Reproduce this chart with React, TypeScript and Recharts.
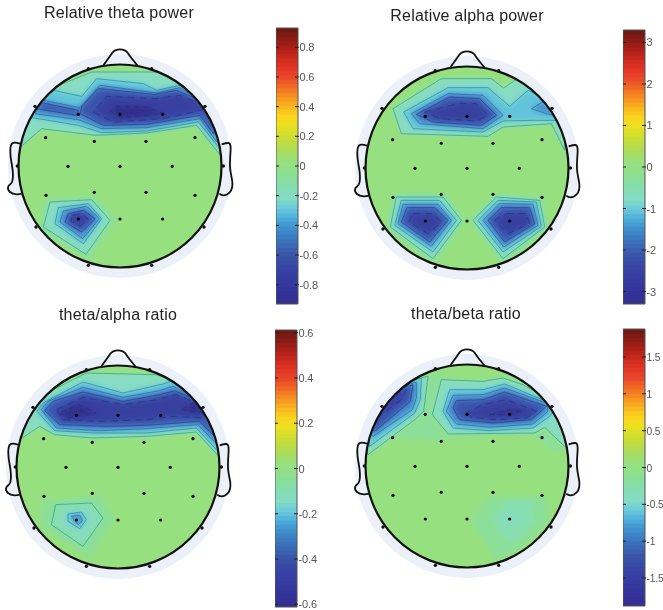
import React from 'react';
import { ScatterChart, Scatter, XAxis, YAxis, ReferenceArea, Curve } from 'recharts';

type Pt = [number, number];
type Region = { level: number; pts: Pt[] };

// Units: 1/3 of a picture pixel, measured in each panel's own crop.
const electrodes: Pt[] = [
  [-125, -155], [0, -155], [128, -155], [-223, -85], [-77, -74], [78, -74], [225, -85],
  [-156, 1], [0, 1], [157, 1], [-222, 88], [-77, 79], [78, 79], [225, 88], [-125, 159], [0, 159], [128, 159],
];
const rimElectrodes: Pt[] = [
  [-95, -292], [95, -292], [-255, -179], [255, -179], [-308, 0], [310, 0], [-252, 183], [252, 183], [-95, 298], [95, 298],
];
const nose: Pt[] = [[-50, -302], [-32, -327], [-20, -343], [-7, -349], [7, -349], [20, -343], [32, -327], [52, -302]];
const leftEar: Pt[] = [[-300, -67], [-315, -70], [-327, -62], [-328, -27], [-322, 13], [-324, 48], [-335, 61], [-330, 78], [-310, 85], [-295, 83]];
const rightEar: Pt[] = [[305, -65], [325, -69], [332, -52], [330, 3], [337, 48], [330, 78], [310, 88], [298, 83]];

const thetaRegions: Region[] = [
  { level: 0, pts: [[130, 600], [290, 590], [350, 655], [270, 780], [120, 690]] },
  { level: 1, pts: [[150, 605], [275, 598], [330, 660], [258, 762], [130, 680]] },
  { level: 2, pts: [[175, 622], [265, 610], [305, 655], [250, 730], [165, 670]] },
  { level: 3, pts: [[190, 632], [260, 618], [298, 655], [248, 715], [180, 665]] },
  { level: 4, pts: [[205, 640], [250, 630], [285, 655], [245, 695], [195, 665]] },
  { level: 5, pts: [[218, 645], [245, 640], [265, 657], [240, 678], [212, 662]] },
  { level: 1, pts: [[62, 440], [125, 385], [285, 405], [440, 398], [590, 375], [665, 470], [690, 400], [620, 300], [530, 240], [470, 215], [275, 215], [160, 262], [100, 310], [60, 390]] },
  { level: 2, pts: [[85, 350], [235, 375], [305, 397], [440, 392], [595, 365], [660, 445], [680, 380], [610, 300], [540, 255], [470, 270], [430, 250], [290, 235], [245, 288], [150, 268], [100, 315]] },
  { level: 3, pts: [[105, 340], [235, 358], [305, 385], [440, 382], [600, 355], [650, 425], [660, 380], [610, 305], [540, 262], [470, 278], [300, 255], [240, 322], [130, 300]] },
  { level: 4, pts: [[240, 340], [310, 375], [440, 372], [600, 345], [640, 400], [650, 370], [600, 300], [530, 270], [465, 282], [295, 265], [245, 320]] },
  { level: 4, pts: [[110, 325], [230, 345], [235, 330], [130, 308]] },
  { level: 5, pts: [[280, 335], [340, 365], [490, 355], [600, 330], [620, 320], [540, 285], [465, 295], [320, 288]] },
  { level: 6, pts: [[330, 332], [365, 352], [440, 345], [490, 340], [440, 320], [350, 318]] },
];

const alphaRegions: Region[] = [
  { level: 1, pts: [[180, 325], [325, 235], [475, 235], [512, 263], [545, 240], [600, 250], [700, 370], [695, 450], [655, 370], [510, 380], [465, 408], [205, 400]] },
  { level: 2, pts: [[212, 335], [345, 262], [465, 262], [530, 318], [585, 270], [650, 300], [690, 370], [670, 360], [600, 360], [510, 362], [450, 395], [240, 385]] },
  { level: 3, pts: [[595, 325], [630, 305], [660, 330], [665, 345], [640, 340]] },
  { level: 3, pts: [[235, 340], [345, 280], [450, 285], [510, 345], [450, 385], [260, 370]] },
  { level: 4, pts: [[250, 342], [350, 290], [440, 295], [490, 345], [445, 375], [300, 365]] },
  { level: 5, pts: [[275, 335], [375, 310], [430, 310], [465, 345], [430, 362], [320, 355]] },
  { level: 0, pts: [[180, 580], [335, 580], [395, 660], [305, 790], [160, 685]] },
  { level: 1, pts: [[190, 590], [330, 590], [385, 660], [300, 775], [172, 680]] },
  { level: 2, pts: [[205, 600], [320, 600], [370, 660], [300, 755], [185, 675]] },
  { level: 3, pts: [[210, 612], [315, 612], [355, 660], [295, 738], [195, 670]] },
  { level: 4, pts: [[222, 622], [305, 622], [345, 660], [290, 725], [205, 665]] },
  { level: 5, pts: [[240, 640], [300, 640], [325, 665], [285, 700], [228, 665]] },
  { level: 0, pts: [[485, 580], [628, 590], [645, 685], [510, 790], [410, 660]] },
  { level: 1, pts: [[490, 590], [620, 600], [635, 680], [510, 775], [420, 660]] },
  { level: 2, pts: [[495, 600], [610, 605], [625, 678], [510, 755], [435, 660]] },
  { level: 3, pts: [[500, 610], [600, 612], [615, 675], [512, 740], [450, 660]] },
  { level: 4, pts: [[505, 622], [590, 622], [605, 670], [515, 725], [465, 660]] },
  { level: 5, pts: [[520, 640], [580, 640], [590, 670], [525, 700], [485, 660]] },
];

const ratioAlphaRegions: Region[] = [
  { level: 0, pts: [[130, 590], [300, 570], [345, 640], [270, 760], [120, 660]] },
  { level: 7, pts: [[168, 600], [275, 595], [310, 640], [250, 725], [155, 660]] },
  { level: 8, pts: [[190, 612], [265, 605], [295, 642], [248, 705], [175, 660]] },
  { level: 2, pts: [[205, 628], [245, 622], [260, 645], [240, 672], [205, 650]] },
  { level: 3, pts: [[215, 635], [240, 632], [248, 648], [235, 660]] },
  { level: 1, pts: [[60, 405], [120, 365], [165, 390], [280, 400], [440, 395], [590, 382], [660, 458], [680, 400], [620, 280], [530, 230], [470, 210], [260, 205], [150, 260], [100, 310], [65, 380]] },
  { level: 2, pts: [[112, 320], [165, 378], [280, 385], [440, 385], [590, 370], [655, 440], [665, 390], [610, 285], [520, 228], [490, 238], [370, 265], [250, 232], [130, 295]] },
  { level: 3, pts: [[125, 315], [170, 370], [300, 378], [440, 372], [595, 360], [648, 415], [655, 385], [600, 285], [520, 245], [480, 258], [370, 278], [250, 248], [145, 290]] },
  { level: 4, pts: [[135, 318], [180, 360], [320, 365], [440, 362], [600, 350], [640, 390], [640, 370], [590, 285], [525, 258], [480, 270], [370, 290], [250, 262], [160, 290]] },
  { level: 5, pts: [[170, 315], [190, 345], [300, 350], [440, 345], [520, 335], [620, 340], [590, 295], [530, 270], [470, 285], [370, 300], [250, 278]] },
  { level: 6, pts: [[180, 325], [205, 340], [290, 325], [235, 300]] },
  { level: 6, pts: [[545, 315], [610, 325], [600, 300], [580, 295]] },
];

const ratioBetaRegions: Region[] = [
  { level: 0, pts: [[415, 650], [470, 575], [640, 575], [650, 650], [550, 740], [490, 770]] },
  { level: 9, pts: [[470, 640], [530, 590], [600, 590], [600, 660], [530, 720]] },
  { level: 8, pts: [[500, 640], [530, 615], [570, 630], [530, 670]] },
  { level: 0, pts: [[180, 400], [272, 335], [290, 205], [330, 205], [300, 345], [345, 400], [480, 405], [300, 410]] },
  { level: 0, pts: [[600, 392], [635, 375], [700, 440], [660, 440]] },
  { level: 1, pts: [[105, 450], [245, 345], [272, 320], [285, 215], [240, 225], [170, 260], [110, 350], [95, 420]] },
  { level: 2, pts: [[110, 425], [245, 325], [262, 285], [265, 220], [200, 240], [130, 310], [100, 370]] },
  { level: 3, pts: [[120, 395], [238, 315], [250, 280], [250, 232], [195, 250], [125, 320], [105, 380]] },
  { level: 4, pts: [[125, 380], [232, 290], [240, 240], [190, 255], [130, 320], [112, 370]] },
  { level: 5, pts: [[132, 340], [205, 285], [220, 255], [190, 265], [140, 310]] },
  { level: 1, pts: [[298, 330], [345, 388], [605, 385], [635, 368], [700, 430], [705, 380], [650, 285], [570, 240], [510, 220], [450, 230], [325, 225]] },
  { level: 2, pts: [[330, 320], [360, 370], [470, 378], [600, 370], [650, 335], [660, 320], [640, 290], [515, 238], [450, 255], [350, 255]] },
  { level: 3, pts: [[340, 320], [370, 358], [470, 368], [600, 358], [645, 320], [640, 295], [515, 250], [450, 270], [360, 272]] },
  { level: 4, pts: [[360, 310], [380, 345], [480, 355], [595, 345], [640, 305], [515, 262], [450, 285], [370, 288]] },
  { level: 5, pts: [[400, 325], [415, 338], [490, 345], [580, 340], [610, 320], [520, 285], [450, 300]] },
  { level: 6, pts: [[470, 330], [530, 315], [570, 320], [520, 330]] },
];

const thetaTicks = [0.8, 0.6, 0.4, 0.2, 0, -0.2, -0.4, -0.6, -0.8];
const alphaTicks = [3, 2, 1, 0, -1, -2, -3];
const ratioAlphaTicks = [0.6, 0.4, 0.2, 0, -0.2, -0.4, -0.6];
const ratioBetaTicks = [1.5, 1, 0.5, 0, -0.5, -1, -1.5];

const titles = ['Relative theta power', 'Relative alpha power', 'theta/alpha ratio', 'theta/beta ratio'];

const colorStops = [
  '#33308f', '#34329a', '#353a9e', '#3640a2', '#3848a6', '#3a55a8', '#3a68b4', '#3b7dc2', '#4093cf', '#4fb0dc', '#6ccbdc', '#85dcc6',
  '#85dcb4', '#86dea0', '#90df8a', '#97e07f', '#a8dd60', '#bedc42', '#d4de2c', '#f0e01f', '#fbd21e', '#f9b020', '#f68e20', '#ef6a25',
  '#e8472a', '#e23526', '#cc2b1f', '#b02018', '#8c1c14', '#6e1a12',
];
const BAND_COUNT = 64;
const hex = (s: string) => [1, 3, 5].map((i) => parseInt(s.slice(i, i + 2), 16));
const colormap = Array.from({ length: BAND_COUNT }, (_, i) => {
  const t = (i / (BAND_COUNT - 1)) * (colorStops.length - 1);
  const a = Math.floor(t);
  const b = Math.min(a + 1, colorStops.length - 1);
  const [p, q] = [hex(colorStops[a]), hex(colorStops[b])];
  return `rgb(${p.map((v, k) => Math.round(v + (q[k] - v) * (t - a))).join(',')})`;
});

const levelFill = ['#8cdf98', '#87dcc4', '#62c4da', '#4a8fce', '#3b55ad', '#37409f', '#312f8c', '#87deb0', '#86dcc0', '#87deb0'];
const levelLine = ['none', '#2e9d98', '#2a8aa0', '#2b6aa0', '#2c3f8c', '#28307c', '#28307c', '#2e9d98', 'none', 'none'];
const levelDash = ['', '', '', '', '', '7 5', '5 4', '', '', ''];

const SCALE = 3;
const CHART = 240;
const HEAD_R = 101.5;
const HALO_R = 112;

const nil = () => null;
const toData = (pts: Pt[]) => pts.map(([x, y]) => ({ x, y }));
const toPath = (points: any[]) => 'M' + points.map((p) => `${p.x},${p.y}`).join('L') + 'Z';

function Head({ id, cx, cy, left, top, regions }: { id: string; cx: number; cy: number; left: number; top: number; regions: Region[] }) {
  const half = (CHART * SCALE) / 2;
  const shift = (pts: Pt[]) => toData(pts.map(([x, y]) => [x + cx, y + cy] as Pt));
  const centre = [{ x: cx, y: cy }];
  const outline = (points: any[]) => <Curve type="natural" points={points} fill="none" stroke="#111" strokeWidth={1.8} />;
  return (
    <div style={{ position: 'absolute', left, top }}>
      <ScatterChart width={CHART} height={CHART} margin={{ top: 0, right: 0, bottom: 0, left: 0 }}>
        <defs>
          <clipPath id={`head-${id}`}>
            <circle cx={CHART / 2} cy={CHART / 2} r={HEAD_R} />
          </clipPath>
          <filter id={`soft-${id}`} x="-30%" y="-30%" width="160%" height="160%">
            <feGaussianBlur stdDeviation={2.6} />
          </filter>
        </defs>
        <XAxis type="number" dataKey="x" hide domain={[cx - half, cx + half]} allowDataOverflow />
        <YAxis type="number" dataKey="y" hide reversed domain={[cy - half, cy + half]} width={0} allowDataOverflow />
        <Scatter data={centre} isAnimationActive={false} shape={(p: any) => <circle cx={p.cx} cy={p.cy} r={HALO_R} fill="#ebf0f9" />} />
        <Scatter data={shift(nose)} isAnimationActive={false} shape={nil} line={(p: any) => outline(p.points)} />
        <Scatter data={shift(leftEar)} isAnimationActive={false} shape={nil} line={(p: any) => outline(p.points)} />
        <Scatter data={shift(rightEar)} isAnimationActive={false} shape={nil} line={(p: any) => outline(p.points)} />
        <Scatter data={centre} isAnimationActive={false} shape={(p: any) => <circle cx={p.cx} cy={p.cy} r={HEAD_R} fill="#97e07f" />} />
        {regions.map((r, i) => (
          <Scatter
            key={`f${i}`}
            data={toData(r.pts)}
            isAnimationActive={false}
            shape={nil}
            line={(p: any) => (
              <g clipPath={`url(#head-${id})`}>
                <path d={toPath(p.points)} fill={levelFill[r.level]} filter={`url(#soft-${id})`} />
              </g>
            )}
          />
        ))}
        {regions.filter((r) => levelLine[r.level] !== 'none').map((r, i) => (
          <Scatter
            key={`l${i}`}
            data={toData(r.pts)}
            isAnimationActive={false}
            shape={nil}
            line={(p: any) => (
              <g clipPath={`url(#head-${id})`}>
                <path d={toPath(p.points)} fill="none" stroke={levelLine[r.level]} strokeWidth={0.85} strokeOpacity={0.85} strokeDasharray={levelDash[r.level]} />
              </g>
            )}
          />
        ))}
        <Scatter data={centre} isAnimationActive={false} shape={(p: any) => <circle cx={p.cx} cy={p.cy} r={HEAD_R} fill="none" stroke="#111" strokeWidth={2.2} />} />
        <Scatter data={shift(rimElectrodes)} isAnimationActive={false} shape={(p: any) => <circle cx={p.cx} cy={p.cy} r={1.7} fill="#111" />} />
        <Scatter data={shift(electrodes)} isAnimationActive={false} shape={(p: any) => <circle cx={p.cx} cy={p.cy} r={1.6} fill="#000" />} />
      </ScatterChart>
    </div>
  );
}

const BAR_W = 22;
const AXIS_W = 42;
const PAD = 10;

function ColorBar({ left, top, bottom, max, min, ticks, size = 11, axisW = AXIS_W }: { left: number; top: number; bottom: number; max: number; min: number; ticks: number[]; size?: number; axisW?: number }) {
  const step = (max - min) / colormap.length;
  const tick = (p: any) => (
    <g>
      <line x1={p.x - BAR_W} x2={p.x - BAR_W + 3} y1={p.y} y2={p.y} stroke="#222" />
      <line x1={p.x - 3} x2={p.x + 1} y1={p.y} y2={p.y} stroke="#222" />
      <text x={p.x + 1.5} y={p.y + 4} fontSize={size} letterSpacing={-0.15} fill="#555" fontFamily="Liberation Sans, Arial, sans-serif">{p.payload.value}</text>
    </g>
  );
  return (
    <div style={{ position: 'absolute', left, top: top - PAD }}>
      <ScatterChart width={BAR_W + axisW} height={bottom - top + PAD * 2} margin={{ top: PAD, bottom: PAD, left: 0, right: 0 }}>
        <XAxis type="number" dataKey="x" hide domain={[0, 1]} />
        <YAxis type="number" dataKey="y" orientation="right" width={axisW} domain={[min, max]} ticks={ticks} interval={0} axisLine={false} tickLine={false} tickSize={0} tickMargin={0} tick={tick} allowDataOverflow />
        <Scatter data={[{ x: 0, y: 0 }]} isAnimationActive={false} shape={nil} />
        {colormap.map((c, i) => (
          <ReferenceArea key={i} x1={0} x2={1} y1={min + i * step} y2={i === colormap.length - 1 ? max : min + (i + 1.2) * step} fill={c} fillOpacity={1} stroke="none" />
        ))}
        <ReferenceArea x1={0} x2={1} y1={min} y2={max} fill="none" stroke="#555" strokeWidth={1} />
      </ScatterChart>
    </div>
  );
}

const titleBase: React.CSSProperties = {
  position: 'absolute',
  fontFamily: 'Liberation Sans, Arial, sans-serif',
  fontSize: 16,
  color: '#222',
  whiteSpace: 'nowrap',
  transform: 'translate(-50%, -50%)',
  letterSpacing: 0.2,
};

export default function App() {
  return (
    <div style={{ position: 'absolute', left: 0, top: 0, width: 663, height: 610, background: '#fff', overflow: 'hidden', filter: 'blur(0.55px)' }}>
      <div style={{ ...titleBase, left: 119, top: 13 }}>{titles[0]}</div>
      <div style={{ ...titleBase, left: 467, top: 16 }}>{titles[1]}</div>
      <div style={{ ...titleBase, left: 118, top: 315 }}>{titles[2]}</div>
      <div style={{ ...titleBase, left: 466, top: 314 }}>{titles[3]}</div>
      <Head id="a" cx={360} cy={497} left={0} top={46} regions={thetaRegions} />
      <Head id="b" cx={402} cy={503} left={347} top={48} regions={alphaRegions} />
      <Head id="c" cx={355} cy={487} left={-2} top={347} regions={ratioAlphaRegions} />
      <Head id="d" cx={402} cy={484} left={347} top={346} regions={ratioBetaRegions} />
      <ColorBar left={276} top={28} bottom={304} max={0.93} min={-0.93} ticks={thetaTicks} />
      <ColorBar left={623} top={30} bottom={304} max={3.3} min={-3.3} ticks={alphaTicks} axisW={18} />
      <ColorBar left={275} top={330} bottom={607} max={0.612} min={-0.612} ticks={ratioAlphaTicks} />
      <ColorBar left={623} top={329} bottom={606} max={1.88} min={-1.88} ticks={ratioBetaTicks} size={10.2} axisW={18} />
    </div>
  );
}
